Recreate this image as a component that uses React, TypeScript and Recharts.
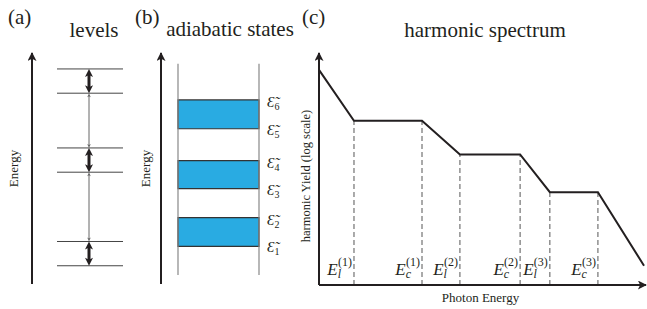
import React from 'react'
import { LineChart, Line, XAxis, YAxis, ReferenceLine, ReferenceArea } from 'recharts'

const W = 647
const H = 309
const SERIF = '"Liberation Serif", "DejaVu Serif", serif'
const INK = '#231f20'
const BLUE = '#29abe2'

// (a) bare levels (energy as % of axis height)
const levelEnergies = [7.9, 18.4, 48.4, 58.9, 82.6, 93.1]
const levelSpan = [25, 91]
const levelArrowX = 57

// (b) adiabatic states
const adiabaticEnergies = [16.25, 28.75, 41.25, 53.4, 67.2, 79.7]
const stateIndex = ['1', '2', '3', '4', '5', '6']
const wallX = [17, 98]
const wallSpan = [3.9, 95.3]

// (c) harmonic spectrum
const photonEnergy = [0, 10.7, 31.5, 43.1, 61.5, 70.6, 85.3, 99.4]
const harmonicYield = [92.7, 70.8, 70.8, 56.3, 56.3, 40, 40, 8.3]
const edgeSub = ['l', 'c', 'l', 'c', 'l', 'c']
const edgeOrder = ['1', '1', '2', '2', '3', '3']

const spectrum = photonEnergy.map((e, i) => ({ e, y: harmonicYield[i] }))
const levels = levelEnergies.map((e) => ({ x: levelArrowX, e }))
const states = adiabaticEnergies.map((e) => ({ x: wallX[0], e }))

const axisX = { stroke: INK, strokeWidth: 2, markerEnd: 'url(#axisArrow)' }
const axisY = { stroke: INK, strokeWidth: 2, markerStart: 'url(#axisArrow)' }

function energyTitle(text: string, dx: number) {
  return (p: any) => {
    const vb = p.viewBox || {}
    const x = vb.x + (vb.width || 0) - dx
    const y = vb.y + vb.height / 2
    return (
      <text x={x} y={y} transform={`rotate(-90 ${x} ${y})`} textAnchor="middle"
        fontFamily={SERIF} fontSize={13} fill={INK}>{text}</text>
    )
  }
}

function doubleArrow(width: number, head: number, len: number, color: string) {
  return (p: any) => {
    const x = p.x1
    const top = Math.min(p.y1, p.y2)
    const bot = Math.max(p.y1, p.y2)
    return (
      <g>
        <line x1={x} y1={top + len * 0.6} x2={x} y2={bot - len * 0.6} stroke={color} strokeWidth={width} />
        <polygon fill={color}
          points={`${x},${top} ${x - head / 2},${top + len} ${x},${top + len * 0.75} ${x + head / 2},${top + len}`} />
        <polygon fill={color}
          points={`${x},${bot} ${x - head / 2},${bot - len} ${x},${bot - len * 0.75} ${x + head / 2},${bot - len}`} />
      </g>
    )
  }
}

function stateLabels(lo: number) {
  return (p: any) => {
    const vb = p.viewBox
    const x = vb.x + vb.width + 8
    const rows = [
      { y: vb.y + 7, n: stateIndex[lo + 1] },
      { y: vb.y + vb.height + 6, n: stateIndex[lo] },
    ]
    return (
      <g fontFamily={SERIF} fill={INK}>
        {rows.map((r) => (
          <text key={r.n} x={x} y={r.y}>
            <tspan fontSize={15} fontStyle="italic">{'\u0190\u0303'}</tspan>
            <tspan fontSize={10} dy={3}>{r.n}</tspan>
          </text>
        ))}
      </g>
    )
  }
}

function edgeLabel(i: number) {
  return (p: any) => {
    const vb = p.viewBox
    const x = vb.x - 2
    const y = vb.y + vb.height - 10
    return (
      <text x={x} y={y} textAnchor="end" fontFamily={SERIF} fill={INK}>
        <tspan fontSize={17} fontStyle="italic">E</tspan>
        <tspan fontSize={12} fontStyle="italic" dy={3}>{edgeSub[i]}</tspan>
        <tspan fontSize={12} dx={edgeSub[i] === 'l' ? -3 : -5} dy={-12}>({edgeOrder[i]})</tspan>
      </text>
    )
  }
}

const layer: React.CSSProperties = { position: 'absolute', left: 0, top: 0 }

export default function App() {
  const edges = [1, 2, 3, 4, 5, 6]
  return (
    <div style={{ position: 'absolute', left: 0, top: 0, width: W, height: H, background: '#fff' }}>
      <svg width={W} height={H} style={layer} fontFamily={SERIF} fill={INK}>
        <defs>
          <marker id="axisArrow" viewBox="0 0 10 10" refX={9} refY={5} markerWidth={10} markerHeight={9}
            markerUnits="userSpaceOnUse" orient="auto-start-reverse">
            <path d="M0,0 L10,5 L0,10 L2.5,5 z" fill={INK} />
          </marker>
        </defs>
        <text x={8} y={24} fontSize={21}>(a)</text>
        <text x={94} y={37} fontSize={21} textAnchor="middle">levels</text>
        <text x={135} y={24} fontSize={21}>(b)</text>
        <text x={230} y={36} fontSize={21} textAnchor="middle">adiabatic states</text>
        <text x={302} y={24} fontSize={21}>(c)</text>
        <text x={485} y={37} fontSize={21} textAnchor="middle">harmonic spectrum</text>
      </svg>

      {/* (a) levels */}
      <div style={layer}>
        <LineChart width={W} height={H} data={levels} margin={{ top: 53, right: W - 132, bottom: 25, left: 31 }}>
          <XAxis type="number" dataKey="x" domain={[0, 100]} hide />
          <YAxis type="number" dataKey="e" domain={[0, 100]} width={1} tick={false} tickLine={false}
            axisLine={axisY} label={energyTitle('Energy', 14)} />
          {levelEnergies.map((e) => (
            <ReferenceLine key={e} segment={[{ x: levelSpan[0], y: e }, { x: levelSpan[1], y: e }]}
              stroke="#444" strokeWidth={1} />
          ))}
          {levelEnergies.slice(1).map((e, i) => (
            <ReferenceLine key={'arr' + e}
              segment={[{ x: levelArrowX, y: levelEnergies[i] }, { x: levelArrowX, y: e }]}
              shape={i % 2 === 0 ? doubleArrow(3, 8, 8, INK) : doubleArrow(1, 3.5, 4, '#666')} />
          ))}
        </LineChart>
      </div>

      {/* (b) adiabatic states */}
      <div style={layer}>
        <LineChart width={W} height={H} data={states} margin={{ top: 53, right: W - 261, bottom: 25, left: 160 }}>
          <XAxis type="number" dataKey="x" domain={[0, 100]} hide />
          <YAxis type="number" dataKey="e" domain={[0, 100]} width={1} tick={false} tickLine={false}
            axisLine={axisY} label={energyTitle('Energy', 11)} />
          {wallX.map((x) => (
            <ReferenceLine key={x} segment={[{ x, y: wallSpan[0] }, { x, y: wallSpan[1] }]}
              stroke="#888" strokeWidth={1.2} />
          ))}
          {[0, 2, 4].map((lo) => (
            <ReferenceArea key={lo} x1={wallX[0]} x2={wallX[1]}
              y1={adiabaticEnergies[lo]} y2={adiabaticEnergies[lo + 1]}
              fill={BLUE} fillOpacity={1} stroke="#333" strokeWidth={1.2}
              label={stateLabels(lo)} />
          ))}
        </LineChart>
      </div>

      {/* (c) harmonic spectrum */}
      <div style={layer}>
        <LineChart width={W} height={H} data={spectrum} margin={{ top: 53, right: 1, bottom: 23, left: 318 }}>
          <XAxis type="number" dataKey="e" domain={[0, 100]} height={1} tick={false} tickLine={false}
            axisLine={axisX}
            label={(p: any) => (
              <text x={p.viewBox.x + p.viewBox.width / 2 - 2} y={p.viewBox.y + 17} textAnchor="middle"
                fontFamily={SERIF} fontSize={13} fill={INK}>Photon Energy</text>
            )} />
          <YAxis type="number" domain={[0, 100]} width={1} tick={false} tickLine={false}
            axisLine={axisY}
            label={(p: any) => {
              const x = p.viewBox.x + (p.viewBox.width || 0) - 9
              const y = p.viewBox.y + p.viewBox.height / 2 + 7
              return (
                <text x={x} y={y} transform={`rotate(-90 ${x} ${y})`} textAnchor="middle"
                  fontFamily={SERIF} fontSize={12.5} fill={INK}>harmonic Yield (log scale)</text>
              )
            }} />
          {edges.map((i, k) => (
            <ReferenceLine key={i}
              segment={[{ x: photonEnergy[i], y: 0 }, { x: photonEnergy[i], y: harmonicYield[i] }]}
              stroke="#555" strokeWidth={1} strokeDasharray="5 3" label={edgeLabel(k)} />
          ))}
          <Line dataKey="y" stroke={INK} strokeWidth={2} dot={false} isAnimationActive={false} />
        </LineChart>
      </div>
    </div>
  )
}
